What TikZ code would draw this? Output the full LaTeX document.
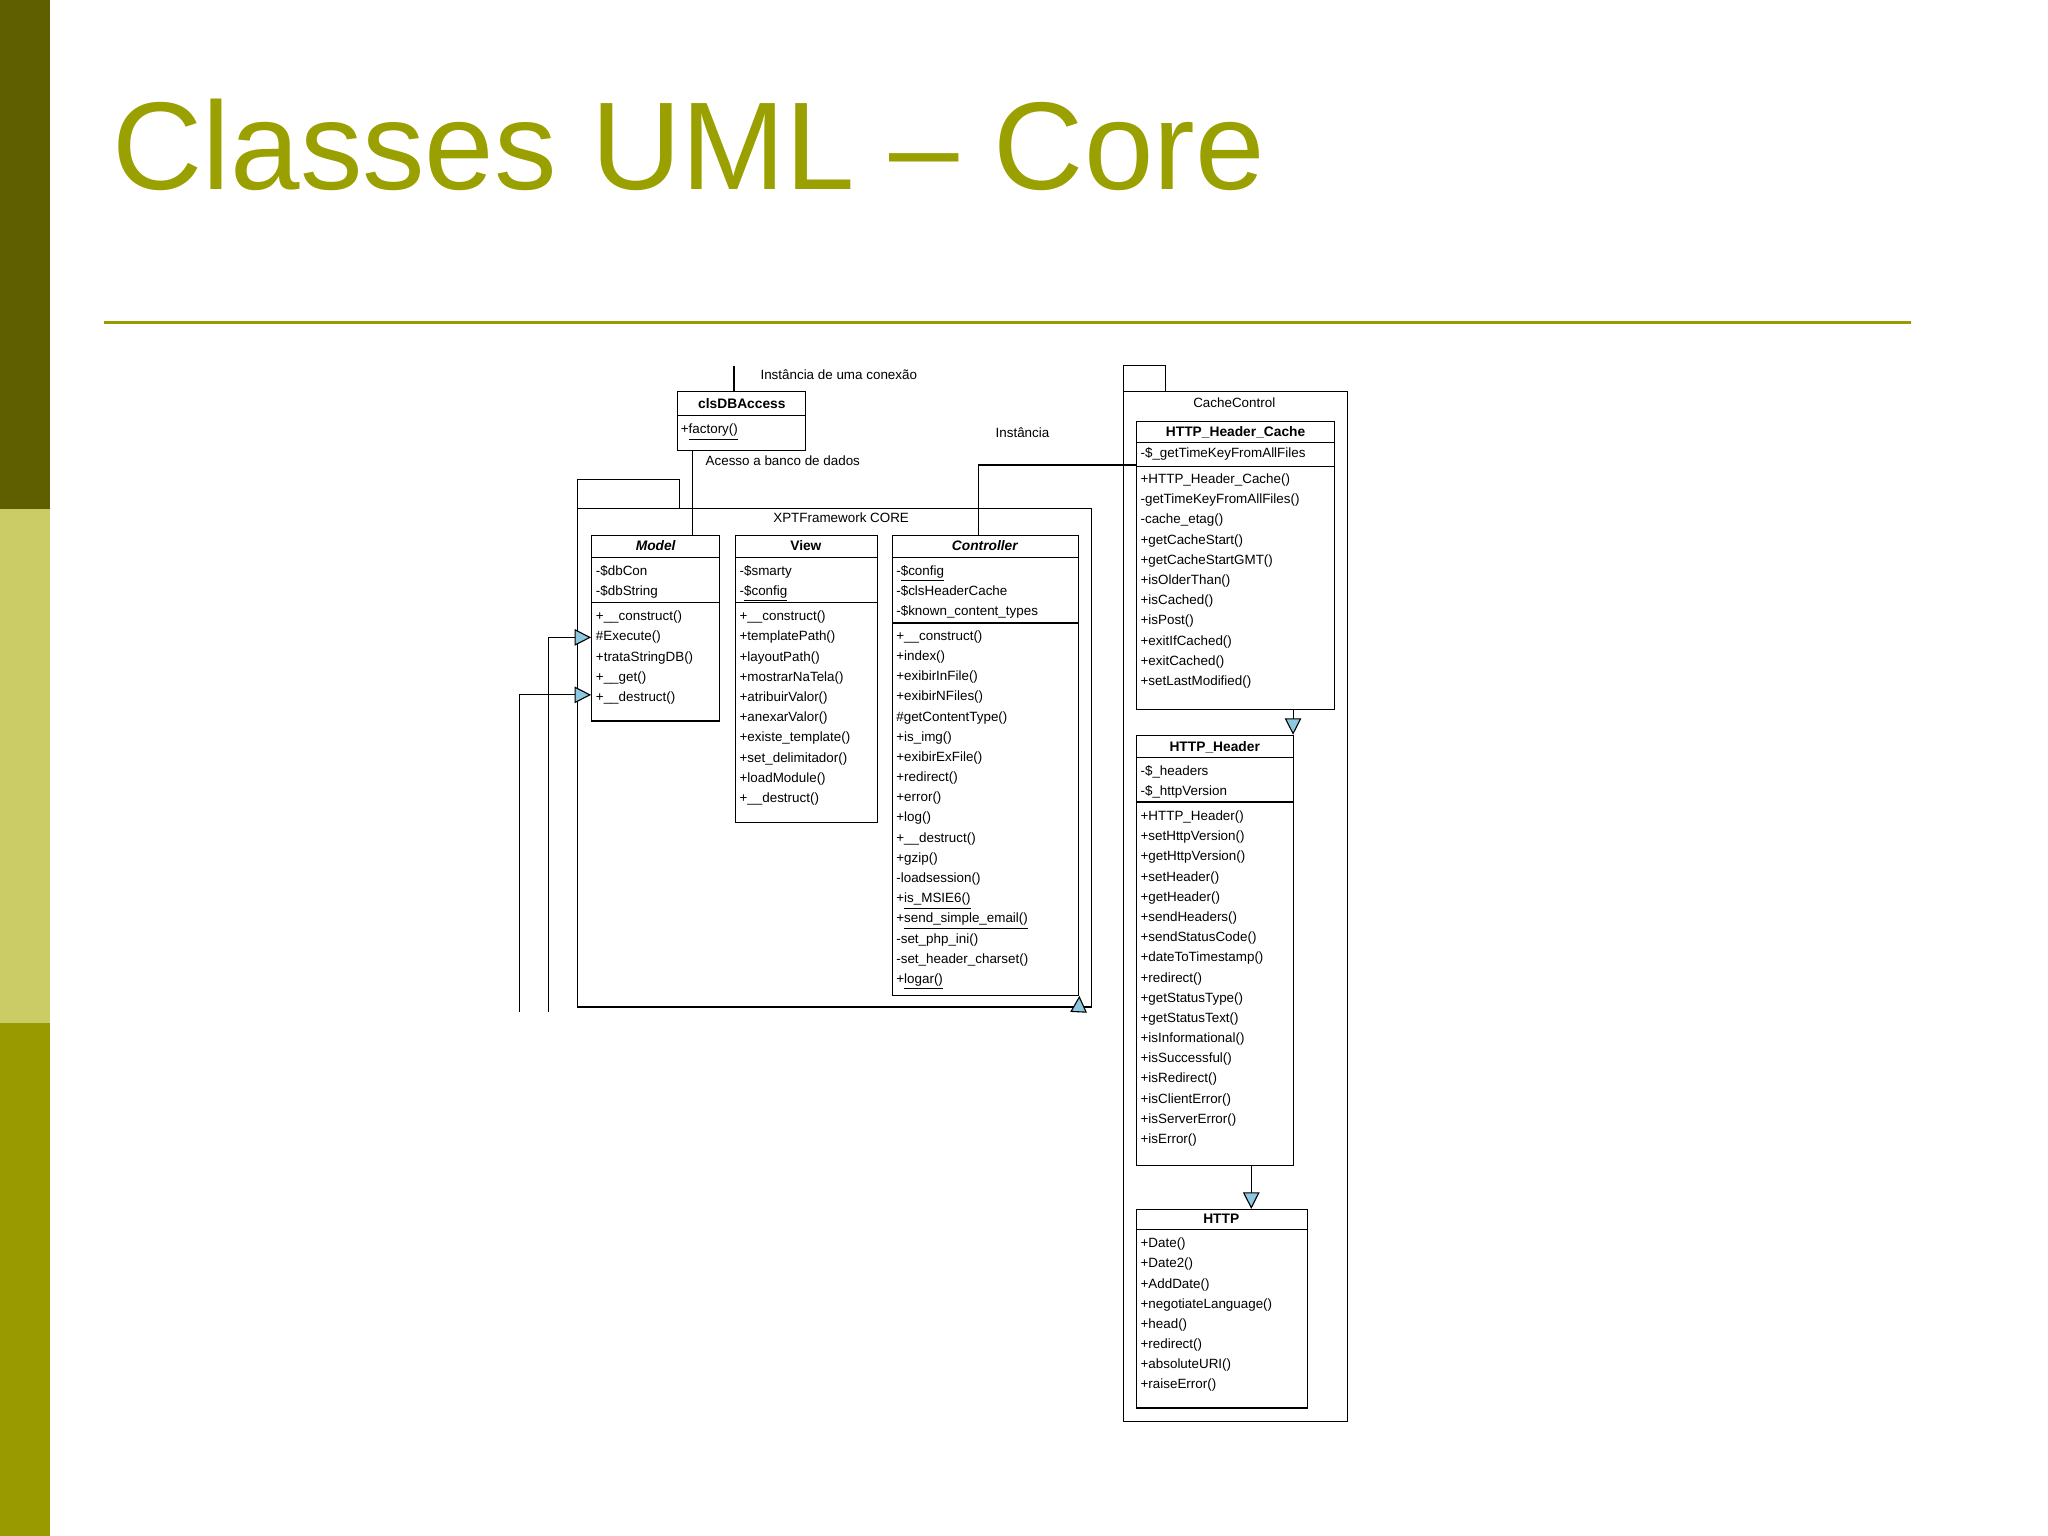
\documentclass[tikz,border=0pt]{standalone}
\usepackage{fontspec}
\setmainfont{Liberation Sans}
\usetikzlibrary{arrows.meta,fit}
\definecolor{olivedark}{HTML}{5F5F00}
\definecolor{olivelight}{HTML}{CCCC66}
\definecolor{olivemid}{HTML}{999900}
\definecolor{titlecol}{HTML}{99A000}
\definecolor{tri}{HTML}{8CC8E0}
\tikzset{
  box/.style={draw, line width=0.6pt, inner sep=0pt, fit={#1}},
  txt/.style={anchor=north west, inner sep=0pt, align=left, yshift=-2.5pt,
    font=\fontsize{7.3}{10.99}\selectfont},
  hdr/.style={inner sep=0pt, font=\bfseries\fontsize{7.5}{9}\selectfont},
  lbl/.style={anchor=west, inner sep=0pt, font=\fontsize{7.3}{9}\selectfont},
  gen/.style={-{Triangle[open, fill=tri, length=9pt, width=9pt]}, line width=0.6pt},
  ln/.style={line width=0.6pt}
}
\newcommand{\ul}[1]{\underline{#1}}
\begin{document}
\begin{tikzpicture}[x=0.025cm,y=-0.025cm]
\useasboundingbox (0,0) rectangle (1568,1176);
% side bar and title
\fill[olivedark] (0,0) rectangle (38,390);
\fill[olivelight] (0,390) rectangle (38,783);
\fill[olivemid] (0,783) rectangle (38,1176);
\node[anchor=base west, inner sep=0pt, text=titlecol, font=\fontsize{68}{70}\selectfont] (title) at (86,145) {Classes UML – Core};
\draw[olivemid, line width=2pt] (80,247) -- (1463,247);

% clsDBAccess
\node[box={(519,300)(617,345)}] (db) {};
\draw[ln] (519,318) -- (617,318);
\node[hdr] (dbh) at (568,309) {clsDBAccess};
\node[txt] (dbm) at (521,321) {+\ul{factory()}};
\coordinate (dbtop) at (562,280);
\draw[ln] (dbtop) -- (562,300);
\node[lbl] (l1) at (582,287) {Instância de uma conexão};
\node[lbl] (l2) at (540,353) {Acesso a banco de dados};

% package XPTFramework CORE
\node[box={(442,367)(520,389)}] (coretab) {};
\node[box={(442,389)(836,771)}] (core) {};
\node[lbl, anchor=center] (corel) at (644,396) {XPTFramework CORE};

% Model
\node[box={(453,410)(551,552)}] (model) {};
\draw[ln] (453,427) -- (551,427) (453,461) -- (551,461);
\node[hdr, font=\bfseries\itshape\fontsize{7.5}{9}\selectfont] (modelh) at (502,418) {Model};
\node[txt] (modela) at (456,429) {-\$dbCon\\-\$dbString};
\node[txt] (modelm) at (456,464) {+\_\_construct()\\\#Execute()\\+trataStringDB()\\+\_\_get()\\+\_\_destruct()};
\draw[ln] (530,345) -- (530,410);

% View
\node[box={(563,410)(672,630)}] (view) {};
\draw[ln] (563,427) -- (672,427) (563,461) -- (672,461);
\node[hdr] (viewh) at (617,418) {View};
\node[txt] (viewa) at (566,429) {-\$smarty\\-\ul{\$config}};
\node[txt] (viewm) at (566,464) {+\_\_construct()\\+templatePath()\\+layoutPath()\\+mostrarNaTela()\\+atribuirValor()\\+anexarValor()\\+existe\_template()\\+set\_delimitador()\\+loadModule()\\+\_\_destruct()};

% Controller
\node[box={(683,410)(826,762)}] (ctrl) {};
\draw[ln] (683,427) -- (826,427) (683,477) -- (826,477);
\node[hdr, font=\bfseries\itshape\fontsize{7.5}{9}\selectfont] (ctrlh) at (754,418) {Controller};
\node[txt] (ctrla) at (686,429) {-\ul{\$config}\\-\$clsHeaderCache\\-\$known\_content\_types};
\node[txt] (ctrlm) at (686,479) {+\_\_construct()\\+index()\\+exibirInFile()\\+exibirNFiles()\\\#getContentType()\\+is\_img()\\+exibirExFile()\\+redirect()\\+error()\\+log()\\+\_\_destruct()\\+gzip()\\-loadsession()\\+\ul{is\_MSIE6()}\\+\ul{send\_simple\_email()}\\-set\_php\_ini()\\-set\_header\_charset()\\+\ul{logar()}};

% CacheControl package
\node[box={(860,280)(892,300)}] (cctab) {};
\node[box={(860,300)(1032,1088)}] (cc) {};
\node[lbl, anchor=center] (ccl) at (945,308) {CacheControl};

% HTTP_Header_Cache
\node[box={(870,323)(1022,543)}] (hhc) {};
\draw[ln] (870,339) -- (1022,339) (870,357) -- (1022,357);
\node[hdr] (hhch) at (946,331) {HTTP\_Header\_Cache};
\node[txt] (hhca) at (873,339) {-\$\_getTimeKeyFromAllFiles};
\node[txt] (hhcm) at (873,359) {+HTTP\_Header\_Cache()\\-getTimeKeyFromAllFiles()\\-cache\_etag()\\+getCacheStart()\\+getCacheStartGMT()\\+isOlderThan()\\+isCached()\\+isPost()\\+exitIfCached()\\+exitCached()\\+setLastModified()};

% HTTP_Header
\node[box={(870,563)(990,892)}] (hh) {};
\draw[ln] (870,580) -- (990,580) (870,614) -- (990,614);
\node[hdr] (hhh) at (930,572) {HTTP\_Header};
\node[txt] (hha) at (873,582) {-\$\_headers\\-\$\_httpVersion};
\node[txt] (hhm) at (873,617) {+HTTP\_Header()\\+setHttpVersion()\\+getHttpVersion()\\+setHeader()\\+getHeader()\\+sendHeaders()\\+sendStatusCode()\\+dateToTimestamp()\\+redirect()\\+getStatusType()\\+getStatusText()\\+isInformational()\\+isSuccessful()\\+isRedirect()\\+isClientError()\\+isServerError()\\+isError()};

% HTTP
\node[box={(870,926)(1001,1078)}] (http) {};
\draw[ln] (870,941) -- (1001,941);
\node[hdr] (httph) at (935,933) {HTTP};
\node[txt] (httpm) at (873,944) {+Date()\\+Date2()\\+AddDate()\\+negotiateLanguage()\\+head()\\+redirect()\\+absoluteURI()\\+raiseError()};

% connectors
\draw[ln] (ctrl.north -| 749,0) -- (749,356) -- (hhc.west |- 0,356);
\node[lbl] (l3) at (762,331) {Instância};
\draw[gen] (hhc.south -| 990,0) -- (hh.north -| 990,0);
\draw[gen] (hh.south -| 958,0) -- (http.north -| 958,0);
\coordinate (cb) at (826,771);
\draw[gen] (cb) -- (ctrl.south east);
\coordinate (p1) at (420,775);
\coordinate (p2) at (398,775);
\draw[gen] (p1) -- (420,488) -- (model.west |- 0,488);
\draw[gen] (p2) -- (398,532) -- (model.west |- 0,532);
\end{tikzpicture}
\end{document}
